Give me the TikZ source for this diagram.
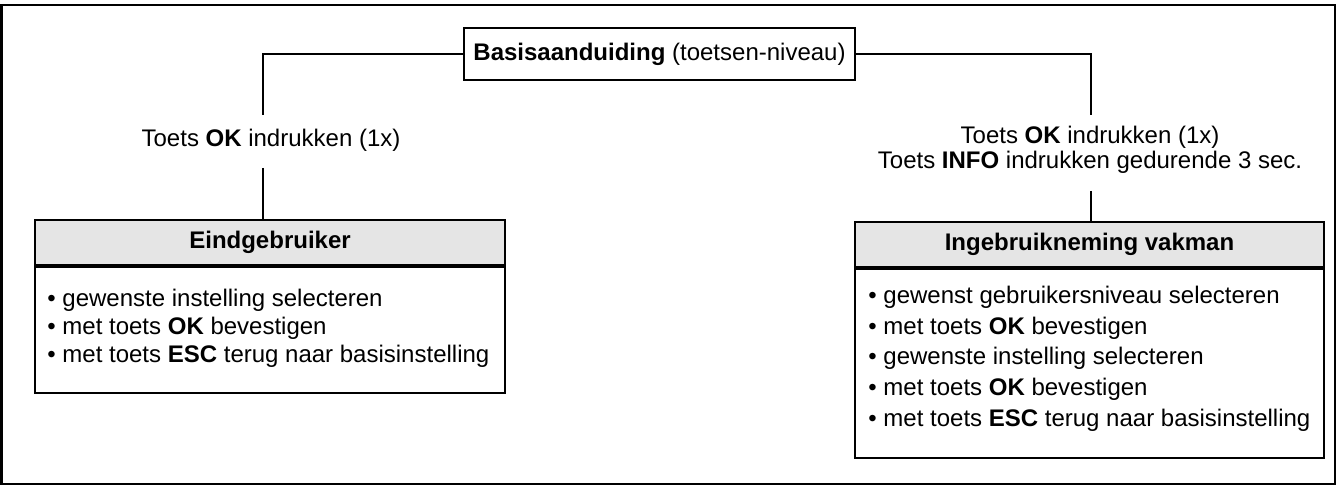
\documentclass[tikz,border=0pt]{standalone}
\usepackage{fontspec}
\setmainfont{Liberation Sans}
\begin{document}
\begin{tikzpicture}[x=0.5pt,y=-0.5pt,
  every node/.style={font=\fontsize{12}{14}\selectfont, inner sep=0pt},
  frame/.style={line width=1.2pt},
  topbox/.style={draw, line width=1pt, minimum width=195.5pt, minimum height=26pt},
  headbox/.style={draw, line width=1pt, fill=black!10, font=\fontsize{12}{14}\selectfont\bfseries},
  bodybox/.style={draw, line width=1pt},
  sep/.style={line width=1.6pt},
  conn/.style={line width=0.8pt},
  item/.style={anchor=west},
  lbl/.style={align=center}
]
\useasboundingbox (0,0) rectangle (1337,486);
\draw[frame] (1.5,5) rectangle (1335,484);

% top node
\node[topbox] (top) at (659.5,54) {\textbf{Basisaanduiding} (toetsen-niveau)};

% left box
\node[headbox, minimum width=235pt, minimum height=22.5pt] (lhead) at (270,242.5) {Eindgebruiker};
\node[bodybox, minimum width=235pt, minimum height=64pt] (lbody) at (270,329) {};
\draw[sep] (lhead.south west) -- (lhead.south east);
\node[item] (l1) at (47,300) {\textbullet\ gewenste instelling selecteren};
\node[item] (l2) at (47,328) {\textbullet\ met toets \textbf{OK} bevestigen};
\node[item] (l3) at (47,356) {\textbullet\ met toets \textbf{ESC} terug naar basisinstelling};

% right box
\node[headbox, minimum width=234.5pt, minimum height=22.5pt] (rhead) at (1089.5,244.5) {Ingebruikneming vakman};
\node[bodybox, minimum width=234.5pt, minimum height=95.5pt] (rbody) at (1089.5,362.5) {};
\draw[sep] (rhead.south west) -- (rhead.south east);
\node[item] (r1) at (868,297) {\textbullet\ gewenst gebruikersniveau selecteren};
\node[item] (r2) at (868,328) {\textbullet\ met toets \textbf{OK} bevestigen};
\node[item] (r3) at (868,358) {\textbullet\ gewenste instelling selecteren};
\node[item] (r4) at (868,389) {\textbullet\ met toets \textbf{OK} bevestigen};
\node[item] (r5) at (868,420) {\textbullet\ met toets \textbf{ESC} terug naar basisinstelling};

% labels
\node[lbl] (lab1) at (271,140) {Toets \textbf{OK} indrukken (1x)};
\node[lbl, font=\fontsize{12}{12.5}\selectfont] (lab2) at (1090,149.5) {Toets \textbf{OK} indrukken (1x)\\Toets \textbf{INFO} indrukken gedurende 3 sec.};

% connectors
\coordinate (c1) at (263,115);
\coordinate (c2) at (263,168);
\coordinate (c3) at (1091,115);
\coordinate (c4) at (1091,191);
\draw[conn] (top.west) -| (c1);
\draw[conn] (c2) -- (c2 |- lhead.north);
\draw[conn] (top.east) -| (c3);
\draw[conn] (c4) -- (c4 |- rhead.north);
\end{tikzpicture}
\end{document}
